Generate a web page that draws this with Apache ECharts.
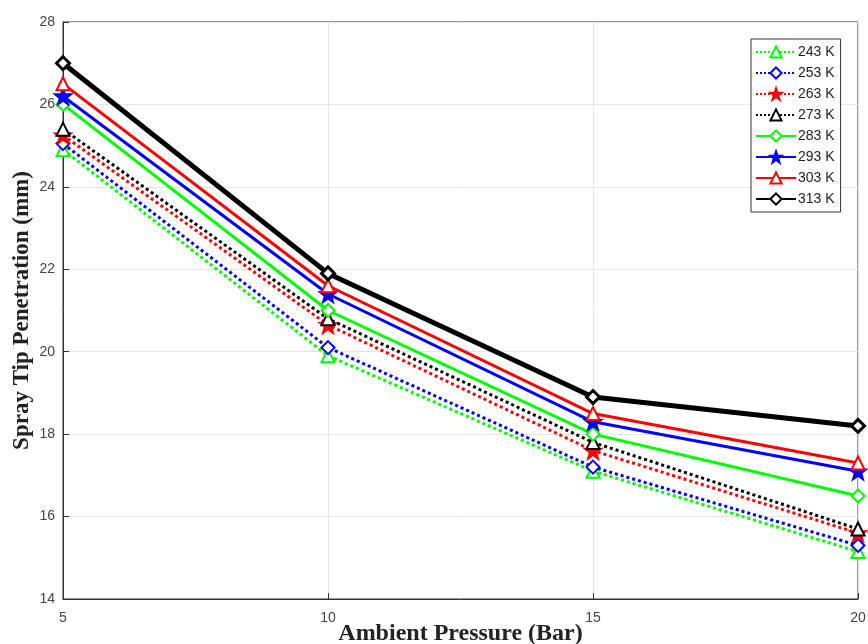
<!DOCTYPE html>
<html>
<head>
<meta charset="utf-8">
<script src="https://cdn.jsdelivr.net/npm/echarts@6/dist/echarts.min.js"></script>
<style>
  html, body { margin: 0; padding: 0; background: #fff; }
  #chart { width: 868px; height: 644px; }
</style>
</head>
<body>
<div id="chart"></div>
<script>
var pressures = [5, 10, 15, 20];
var seriesNames = ['243 K', '253 K', '263 K', '273 K', '283 K', '293 K', '303 K', '313 K'];
var penetration = [
  [24.9, 19.9, 17.1, 15.15],
  [25.05, 20.1, 17.2, 15.3],
  [25.25, 20.65, 17.6, 15.6],
  [25.4, 20.8, 17.8, 15.7],
  [26.0, 21.0, 18.0, 16.5],
  [26.2, 21.4, 18.3, 17.1],
  [26.5, 21.6, 18.5, 17.3],
  [27.0, 21.9, 18.9, 18.2]
];
var colors = ['#00ff00', '#0000ff', '#ff0000', '#000000', '#00ff00', '#0000ff', '#ff0000', '#000000'];
var lineTypes = ['dotted', 'dotted', 'dotted', 'dotted', 'solid', 'solid', 'solid', 'solid'];
var lineWidths = [3, 3, 3, 3, 3, 3, 3, 5];

var star = 'path://M0,-10 L2.35,-3.24 L9.51,-3.09 L3.8,1.24 L5.88,8.09 L0,4 L-5.88,8.09 L-3.8,1.24 L-9.51,-3.09 L-2.35,-3.24 Z';
var markers = ['triangle', 'diamond', star, 'triangle', 'diamond', star, 'triangle', 'diamond'];

var chartDom = document.getElementById('chart');
var myChart = echarts.init(chartDom);

var series = seriesNames.map(function (name, i) {
  var isStar = markers[i] === star;
  return {
    name: name,
    type: 'line',
    data: pressures.map(function (p, j) { return [p, penetration[i][j]]; }),
    symbol: markers[i],
    symbolSize: isStar ? 16 : 13,
    showAllSymbol: true,
    lineStyle: { color: colors[i], width: lineWidths[i], type: lineTypes[i] },
    itemStyle: {
      color: isStar ? colors[i] : '#fff',
      borderColor: colors[i],
      borderWidth: i === 7 ? 3 : 2
    },
    emphasis: { disabled: true },
    z: 2 + i
  };
});

var option = {
  backgroundColor: '#fff',
  animation: false,
  color: colors,
  grid: {
    left: 63, right: 10, top: 22, bottom: 45,
    outerBoundsMode: 'none',
    containLabel: false,
    show: true, borderColor: '#333', borderWidth: 1, backgroundColor: '#fff'
  },
  legend: {
    orient: 'vertical',
    left: 751,
    top: 39,
    itemWidth: 40,
    itemHeight: 14,
    itemGap: 7,
    padding: [6, 6, 6, 4],
    backgroundColor: '#fff',
    borderColor: '#333',
    borderWidth: 1,
    borderRadius: 0,
    textStyle: { fontFamily: 'Liberation Sans', fontSize: 14, color: '#222', padding: [0, 0, 0, -3] },
    data: seriesNames
  },
  xAxis: {
    type: 'value',
    min: 5, max: 20, interval: 5,
    name: 'Ambient Pressure (Bar)',
    nameLocation: 'middle',
    nameMoveOverlap: false,
    nameGap: 23,
    nameTextStyle: { fontFamily: 'Liberation Serif', fontWeight: 'bold', fontSize: 24, color: '#222' },
    axisLine: { onZero: false, lineStyle: { color: '#333' } },
    axisTick: { inside: true, length: 6, lineStyle: { color: '#333' } },
    axisLabel: { fontFamily: 'Liberation Sans', fontSize: 14, color: '#444', margin: 12 },
    splitLine: { show: true, lineStyle: { color: '#e6e6e6' } }
  },
  yAxis: {
    type: 'value',
    min: 14, max: 28, interval: 2,
    name: 'Spray Tip Penetration (mm)',
    nameLocation: 'middle',
    nameMoveOverlap: false,
    nameGap: 29,
    nameTextStyle: { fontFamily: 'Liberation Serif', fontWeight: 'bold', fontSize: 23, color: '#222' },
    axisLine: { show: true, onZero: false, lineStyle: { color: '#333' } },
    axisTick: { show: true, inside: true, length: 6, lineStyle: { color: '#333' } },
    axisLabel: { fontFamily: 'Liberation Sans', fontSize: 14, color: '#444', margin: 8 },
    splitLine: { show: true, lineStyle: { color: '#e6e6e6' } }
  },
  series: series
};

option && myChart.setOption(option);

window.addEventListener('resize', function () {
  myChart.resize();
});
</script>
</body>
</html>
